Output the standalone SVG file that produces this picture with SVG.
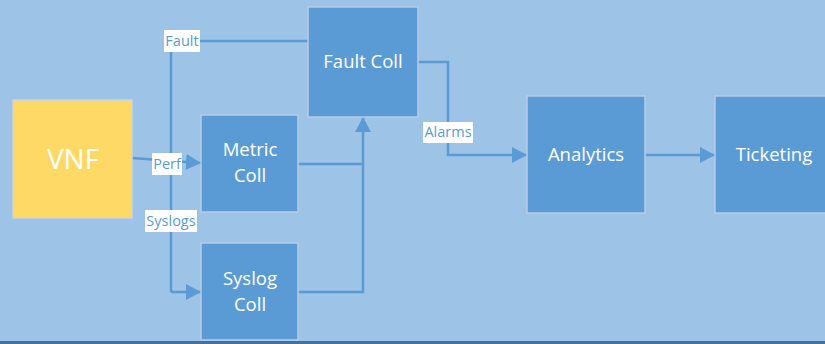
<svg xmlns="http://www.w3.org/2000/svg" width="825" height="344" viewBox="0 0 825 344">
  <defs>
    <marker id="arrow" markerWidth="16" markerHeight="16" viewBox="0 0 16 16" refX="15" refY="8" orient="auto" markerUnits="userSpaceOnUse">
      <path d="M0,0 L15,8 L0,16 Z" fill="#5B9BD5"/>
    </marker>
    <style>
      .box { fill: #5B9BD5; stroke: #B8CCE4; stroke-width: 1.5; }
      .vnf { fill: #FFD966; stroke: #C9D3DF; stroke-width: 1.5; }
      .node-text { font-family: "Open Sans", "Liberation Sans", sans-serif; fill: #FFFFFF; font-size: 18.5px; text-anchor: middle; }
      .big { font-size: 28px; }
      .conn { fill: none; stroke: #5B9BD5; stroke-width: 2.5; }
      .lbl-bg { fill: #FFFFFF; }
      .lbl { font-family: "Open Sans", "Liberation Sans", sans-serif; fill: #5B9BD5; font-size: 14.5px; text-anchor: middle; }
    </style>
  </defs>

  <!-- background -->
  <rect x="0" y="0" width="825" height="344" fill="#9DC3E6"/>
  <rect x="0" y="341" width="825" height="3" fill="#41719C"/>

  <!-- connectors -->
  <g id="connectors">
    <!-- VNF fault branch -->
    <polyline class="conn" points="308,41 171,41 171,292"/>
    <line class="conn" x1="171" y1="292" x2="201" y2="292" marker-end="url(#arrow)"/>
    <!-- VNF perf -->
    <line class="conn" x1="132" y1="158" x2="201" y2="163" marker-end="url(#arrow)"/>
    <!-- collectors into fault collector -->
    <line class="conn" x1="298" y1="164" x2="363" y2="164"/>
    <polyline class="conn" points="298,292 363,292 363,117" marker-end="url(#arrow)"/>
    <!-- alarms -->
    <polyline class="conn" points="418,62 448,62 448,155 527,155" marker-end="url(#arrow)"/>
    <!-- analytics to ticketing -->
    <line class="conn" x1="645" y1="155" x2="715" y2="155" marker-end="url(#arrow)"/>

    <!-- connector labels -->
    <rect class="lbl-bg" x="164" y="30" width="36" height="22"/>
    <text class="lbl" x="182" y="46">Fault</text>
    <rect class="lbl-bg" x="152" y="153" width="30" height="22"/>
    <text class="lbl" x="167" y="169">Perf</text>
    <rect class="lbl-bg" x="145" y="210" width="52" height="22"/>
    <text class="lbl" x="171" y="226">Syslogs</text>
    <rect class="lbl-bg" x="423" y="122" width="50" height="21"/>
    <text class="lbl" x="448" y="137">Alarms</text>
  </g>

  <g id="vnf">
    <rect class="vnf" x="13" y="100" width="119" height="118"/>
    <text class="node-text big" x="73" y="169">VNF</text>
  </g>

  <g id="fault-coll">
    <rect class="box" x="308" y="7" width="110" height="110"/>
    <text class="node-text" x="363" y="68">Fault Coll</text>
  </g>

  <g id="metric-coll">
    <rect class="box" x="201" y="115" width="97" height="97"/>
    <text class="node-text" x="250" y="156">Metric</text>
    <text class="node-text" x="250" y="182">Coll</text>
  </g>

  <g id="syslog-coll">
    <rect class="box" x="201" y="243" width="97" height="97"/>
    <text class="node-text" x="250" y="285">Syslog</text>
    <text class="node-text" x="250" y="311">Coll</text>
  </g>

  <g id="analytics">
    <rect class="box" x="527" y="96" width="118" height="117"/>
    <text class="node-text" x="586" y="161">Analytics</text>
  </g>

  <g id="ticketing">
    <rect class="box" x="715" y="96" width="118" height="117"/>
    <text class="node-text" x="774" y="161">Ticketing</text>
  </g>
</svg>
